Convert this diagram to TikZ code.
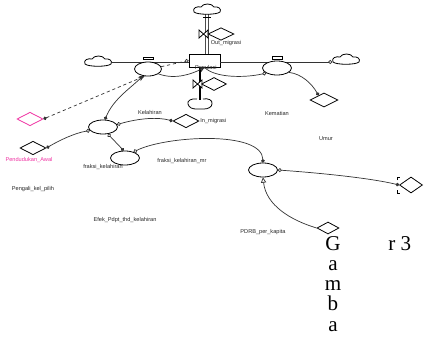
\documentclass[tikz,border=0pt]{standalone}
\usepackage{fontspec}
\setmainfont{Liberation Serif}
\newfontfamily\labfont{Liberation Sans}
\usetikzlibrary{shapes.geometric,arrows.meta}
\begin{document}
\begin{tikzpicture}[x=0.02cm,y=-0.02cm,
  lab/.style={font=\labfont\fontsize{3.2}{3.6}\selectfont, inner sep=0, text=black!85},
  stock/.style={ellipse, draw, line width=0.45pt, fill=white, minimum width=0.58cm, minimum height=0.28cm, inner sep=0},
  aux/.style={diamond, draw, line width=0.45pt, fill=white, minimum width=0.52cm, minimum height=0.27cm, inner sep=0},
  skyspot/.style={rectangle, inner sep=0, minimum width=0.54cm, minimum height=0.2cm},
  skyblob/.pic={\draw[line width=0.45pt, fill=white] (-13,2) .. controls (-15,-2) and (-10,-4) .. (-6,-3) .. controls (-4,-7) and (5,-7) .. (7,-3) .. controls (11,-4) and (15,-1) .. (13,2) .. controls (10,5) and (-10,5) .. (-13,2) -- cycle;},
  flowbox/.style={rectangle, draw, fill=white, line width=0.45pt, minimum width=0.62cm, minimum height=0.26cm, inner sep=0},
  conn/.style={line width=0.4pt, black!80},
  dsh/.style={conn, dash pattern=on 1.8pt off 1.6pt},
  pipeU/.style={line width=0.5pt, double=white, double distance=0.9pt, black!70},
  pipeL/.style={line width=1.4pt, black},
  valve/.style={line width=0.45pt, fill=white},
  big/.style={font=\fontsize{12}{12}\selectfont, inner sep=0, anchor=base}
]
\fill[white] (0,0) rectangle (424,349);
\path[use as bounding box] (0,0) rectangle (424,349);

% clouds
\node[skyspot] (cT) at (207,10) {};
\node[skyspot] (cL) at (98,62) {};
\node[skyspot] (cR) at (346,60) {};
\coordinate (cB) at (200,100);

% central box
\node[flowbox] (box) at (204.5,60.5) {};

% horizontal line
\draw[conn] (cL.east) -- (cL.east -| box.west);
\draw[conn,-{Circle[open,length=2.2pt]}] (box.east |- cL.east) -- (cR.west |- cL.east);

% label of the box (partly hidden by the pipe)
\node[lab, anchor=east] (boxlab) at (217,68.5) {Populasi};

% pipes
\draw[pipeU] (cT.center) -- (cT.center |- box.north);
\draw[pipeL] (box.south -| cB) -- (cB);
\draw[line width=0.45pt] (203,17) -- (211,17);
\pic at (cT) {skyblob};
\pic at (cL) {skyblob};
\pic at (cR) {skyblob};
\draw[line width=0.45pt] (197,99) .. controls (191,98) and (187,101) .. (188,104) .. controls (189,108) and (193,109) .. (196,109) -- (204,109) .. controls (208,109) and (212,107) .. (212,104) .. controls (213,100) and (208,98) .. (203,99);

% valves
\draw[valve] (199,30) -- (208,38) -- (208,30) -- (199,38) -- cycle;
\node[aux, minimum width=0.52cm, minimum height=0.25cm] (dOut) at (221,34) {};
\node[lab, anchor=west] (lOut) at (210.5,43) {Out\_migrasi};
\draw[valve] (193,80) -- (202,88) -- (202,80) -- (193,88) -- cycle;
\node[aux, minimum width=0.5cm, minimum height=0.26cm] (dIn2) at (214,84) {};

% stocks / rates
\node[stock, minimum width=0.54cm] (sL) at (148,69) {};
\node[stock] (sR) at (277,68) {};
\draw[line width=0.4pt] (143,57) rectangle (153,59.5);
\draw[line width=0.4pt] (272,56.5) rectangle (282,59);
\node[stock] (sK) at (103,127) {};
\node[stock] (sF) at (125,158) {};
\node[stock] (sU) at (263,170) {};

% auxiliaries
\node[aux, draw=magenta!80!white] (dPA) at (30,119) {};
\node[aux] (dP) at (33,148) {};
\node[aux] (dI) at (186,121) {};
\node[aux, minimum width=0.56cm, minimum height=0.28cm] (dK) at (324,100) {};
\node[aux, minimum width=0.46cm, minimum height=0.32cm] (dR) at (411,185) {};
\node[aux, minimum width=0.44cm, minimum height=0.24cm] (dG) at (328,228) {};
\draw[line width=0.3pt] (397,180) -- (397,177) -- (400,177);
\draw[line width=0.3pt] (397,190) -- (397,193) -- (400,193);

% connectors
\draw[dsh, {Circle[length=2pt]}-{Stealth[length=3pt,width=2.5pt]}] (dPA.east) -- (sL.245);
\draw[conn, {Circle[length=2pt]}-{Stealth[length=3pt,width=2.5pt]}] (sK.75) .. controls (113,100) and (128,90) .. (sL.235);
\draw[conn, -{Stealth[length=3pt,width=3pt]}] (sL.-25) .. controls (175,80) and (192,74) .. (box.south);
\draw[dsh, -{Circle[open,length=2.2pt]}] (sL.10) -- (box.west);
\draw[conn, -{Circle[open,length=2.2pt]}] (box.south) .. controls (215,78) and (245,78) .. (sR.205);
\draw[conn, -{Circle[length=2pt]}] (sR.-20) .. controls (302,74) and (312,84) .. (dK.140);
\draw[conn, {Circle[open,length=2.2pt]}-{Circle[length=2pt]}] (sK.10) .. controls (140,118) and (158,117) .. (dI.west);
\draw[conn, {Circle[open,length=2.2pt]}-{Circle[length=2pt]}] (sK.-55) -- (sF.100);
\draw[conn, {Circle[length=2pt]}-{Circle[open,length=2.2pt]}] (dP.east) .. controls (60,140) and (75,133) .. (sK.195);
\draw[conn, {Circle[open,length=2.2pt]}-{Circle[length=2pt]}] (sF.35) .. controls (165,136) and (262,130) .. (sU.north);
\draw[conn, {Circle[open,length=2.2pt]}-{Circle[length=2pt]}] (sU.east) .. controls (320,173) and (370,178) .. (dR.west);
\draw[conn, -{Triangle[open,length=3pt,width=3pt]}] (dG.west) .. controls (290,220) and (266,205) .. (sU.south);

% labels
\node[lab] (lKel) at (150,112) {Kelahiran};
\node[lab] (lKem) at (277,113) {Kematian};
\node[lab, anchor=west] (lIn) at (200,121) {In\_migrasi};
\node[lab] (lUmur) at (326,139) {Umur};
\node[lab, text=magenta!80!white] (lPA) at (29,160) {Pendudukan\_Awal};
\node[lab] (lFK) at (103,167) {fraksi\_kelahiran};
\node[lab] (lFKM) at (182,161) {fraksi\_kelahiran\_mr};
\node[lab] (lPeng) at (33,189) {Pengali\_kel\_pilih};
\node[lab] (lEfek) at (125,220) {Efek\_Pdpt\_thd\_kelahiran};
\node[lab] (lPDRB) at (263,232) {PDRB\_per\_kapita};

% caption letters
\node[big] (g1) at (333,250) {G};
\node[big, anchor=base west] (g7) at (388,250) {r 3};
\node[big] (g2) at (333,270) {a};
\node[big] (g3) at (333,290) {m};
\node[big] (g4) at (333,310.5) {b};
\node[big] (g5) at (333,331) {a};
\end{tikzpicture}
\end{document}
